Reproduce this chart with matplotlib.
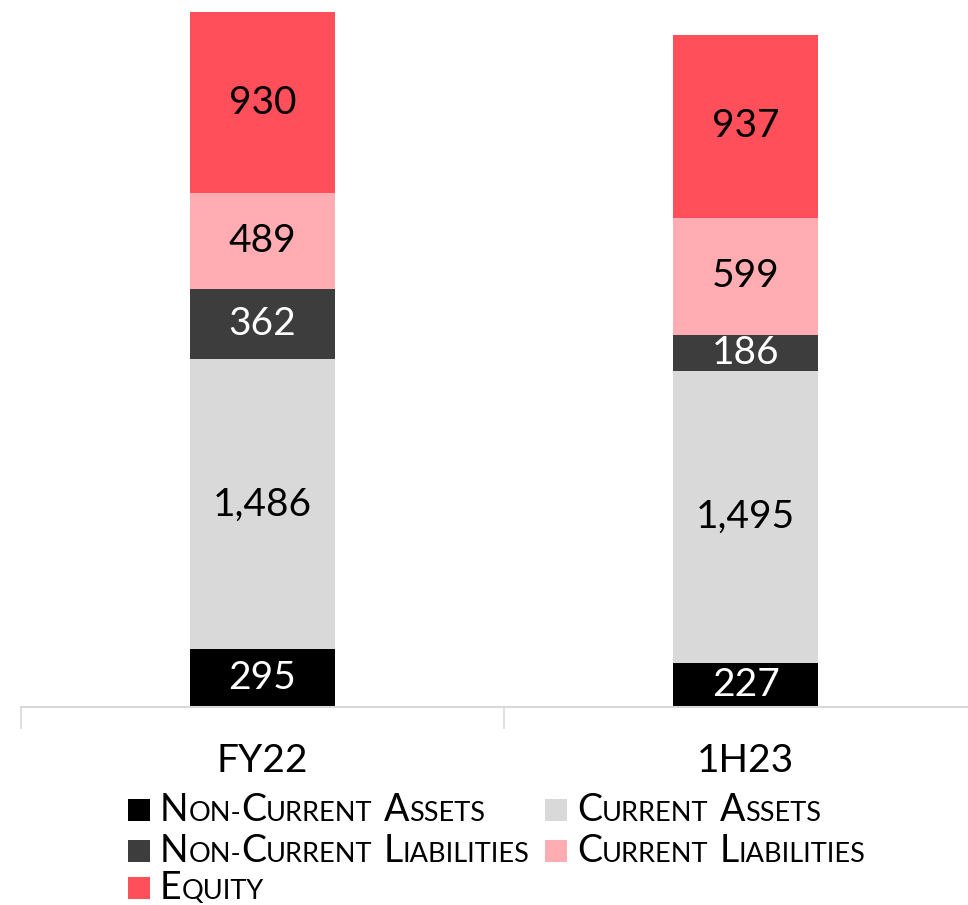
import matplotlib
matplotlib.use("Agg")
import matplotlib.pyplot as plt
from matplotlib.patches import Rectangle
from matplotlib.offsetbox import TextArea, HPacker, DrawingArea, AnnotationBbox

FONT = "Lato"

categories = ["FY22", "1H23"]
series_names = [
    "Non-Current Assets",
    "Current Assets",
    "Non-Current Liabilities",
    "Current Liabilities",
    "Equity",
]
non_current_assets = [295, 227]
current_assets = [1486, 1495]
non_current_liabilities = [362, 186]
current_liabilities = [489, 599]
equity = [930, 937]

series = [non_current_assets, current_assets, non_current_liabilities,
          current_liabilities, equity]
colors = ["#000000", "#d9d9d9", "#3d3d3d", "#ffadb2", "#ff4f5a"]
text_colors = ["white", "black", "white", "black", "black"]


def small_caps(label, big, small):
    # fake small caps: capitals at full size, lowercase as smaller capitals
    words = []
    for word in label.split(" "):
        runs = []
        cur, cur_big = "", None
        for ch in word:
            is_big = ch.isupper()
            if cur and is_big != cur_big:
                runs.append((cur, cur_big))
                cur = ""
            cur += ch.upper()
            cur_big = is_big
        runs.append((cur, cur_big))
        parts = [TextArea(t, textprops=dict(fontsize=big if b else small,
                                            family=FONT, color="black"))
                 for t, b in runs]
        words.append(HPacker(children=parts, sep=0, pad=0, align="baseline"))
    return HPacker(children=words, sep=8, pad=0, align="baseline")


def main():
    fig = plt.figure(figsize=(9.68, 9.05), dpi=100)
    W, H = 968, 905
    # one category = 483 px; the axes runs past the right edge of the figure
    ax = fig.add_axes([21 / W, 198 / H, 966 / W, 1 - 198 / H])

    x = range(len(categories))
    bottoms = [0] * len(categories)
    for vals, col, tcol in zip(series, colors, text_colors):
        bars = ax.bar(x, vals, width=0.30, bottom=bottoms, color=col,
                      edgecolor="none")
        labels = [f"{v:,}" for v in vals]
        ax.bar_label(bars, labels=labels, label_type="center", color=tcol,
                     fontsize=28, family=FONT)
        bottoms = [b + v for b, v in zip(bottoms, vals)]

    ax.set_xlim(-0.5, 1.5)
    ax.set_ylim(0, 3623)
    ax.set_yticks([])
    for s in ["top", "right", "left"]:
        ax.spines[s].set_visible(False)
    ax.spines["bottom"].set_color("#d9d9d9")
    ax.spines["bottom"].set_linewidth(1.5)

    ax.set_xticks(list(x))
    ax.set_xticklabels(categories, fontsize=28, family=FONT)
    ax.tick_params(axis="x", which="major", length=0, pad=26)
    ax.set_xticks([-0.5, 0.5, 1.5], minor=True)
    ax.tick_params(axis="x", which="minor", length=16, width=1.2,
                   color="#d9d9d9", direction="out")

    # legend laid out by hand (two columns, row-major)
    positions = [(128, 810), (545, 810), (128, 851), (545, 851), (128, 888)]
    for name, col, (px, py) in zip(series_names, colors, positions):
        sq = DrawingArea(16, 16, 0, 0)
        sq.add_artist(Rectangle((0, 0), 16, 16, facecolor=col, edgecolor="none"))
        text = small_caps(name, 27, 19.5)
        entry = HPacker(children=[sq, text], sep=7, pad=0, align="center")
        ab = AnnotationBbox(entry, (px, H - py), xycoords="figure pixels",
                            box_alignment=(0, 0.5), frameon=False, pad=0)
        fig.add_artist(ab)

    fig.savefig("out.png", dpi=100)


if __name__ == "__main__":
    main()
